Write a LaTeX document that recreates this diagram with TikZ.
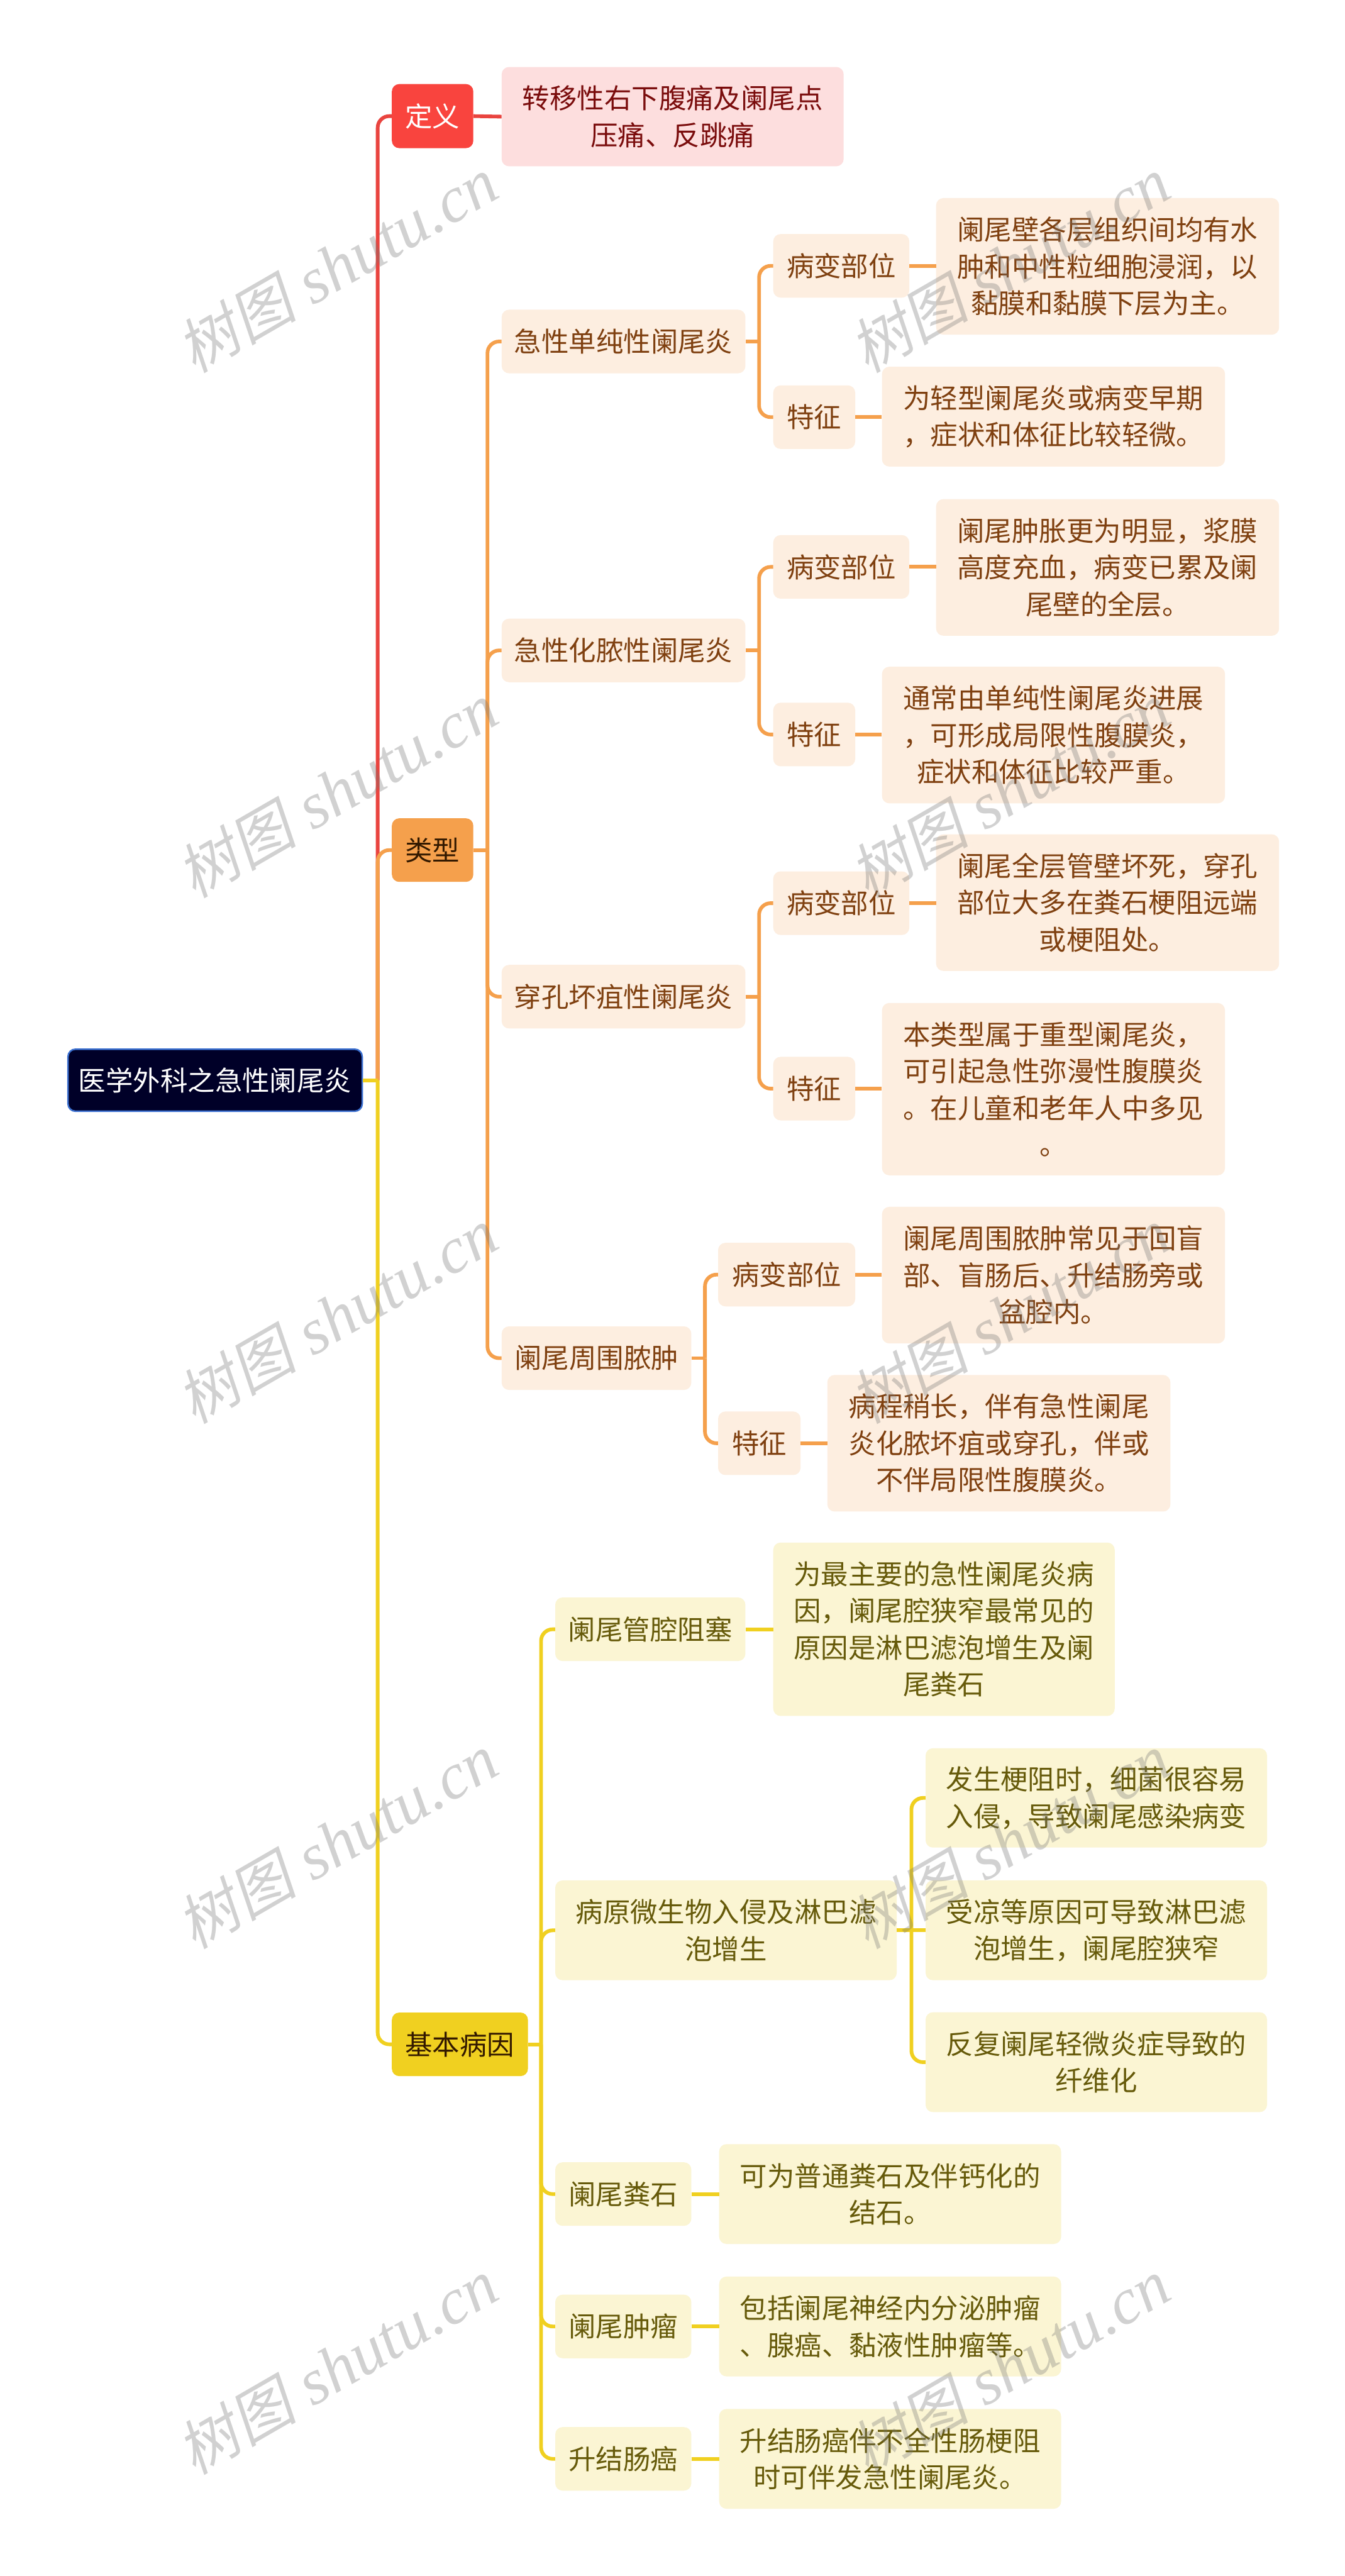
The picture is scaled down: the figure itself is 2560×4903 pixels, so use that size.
\documentclass[tikz,border=0pt]{standalone}
\usepackage{fontspec}
\setmainfont{Noto Sans CJK SC}
\newfontfamily\wmcjk[FakeSlant=0.2]{Noto Sans CJK SC}
\newfontfamily\wmlat{Liberation Serif}
\definecolor{cred}{HTML}{F9443E}
\definecolor{cline}{HTML}{E9443F}
\definecolor{corange}{HTML}{F5A04C}
\definecolor{cyellow}{HTML}{F0D020}
\definecolor{pred}{HTML}{FDDEDE}
\definecolor{porange}{HTML}{FDEEE0}
\definecolor{pyellow}{HTML}{FBF5D3}
\definecolor{tred}{HTML}{7A0C0C}
\definecolor{torange}{HTML}{7F4010}
\definecolor{tyellow}{HTML}{665A0A}
\definecolor{rootbg}{HTML}{000028}
\definecolor{rootbd}{HTML}{3A6FD0}
\tikzset{
  x=1pt,y=-1pt,
  nb/.style={rounded corners=14pt,inner sep=0pt,align=center,anchor=center,font=\fontsize{52}{70}\selectfont},
  rootn/.style={nb,fill=rootbg,draw=rootbd,line width=3pt,text=white},
  defn/.style={nb,fill=cred,text=white},
  typen/.style={nb,fill=corange,text=black!80!orange},
  causen/.style={nb,fill=cyellow,text=black!80!orange},
  rbox/.style={nb,fill=pred,text=tred},
  obox/.style={nb,fill=porange,text=torange},
  ybox/.style={nb,fill=pyellow,text=tyellow},
  ln/.style={line width=7pt,rounded corners=22pt},
  rl/.style={ln,draw=cline},
  ol/.style={ln,draw=corange},
  yl/.style={ln,draw=cyellow},
  wm/.style={rotate=30,text=black!55,opacity=.32,anchor=center,inner sep=0pt}
}
\newcommand{\wmark}{{\wmcjk\fontsize{114}{114}\selectfont 树图}{\wmlat\itshape\fontsize{124}{124}\selectfont{} shutu.cn}}
\begin{document}
\begin{tikzpicture}
\useasboundingbox (0,0) rectangle (2560,4903);
\fill[white] (0,0) rectangle (2560,4903);
% junction columns
\coordinate (tA) at (719,0);
\coordinate (tB) at (928,0);
\coordinate (tC) at (1030,0);
\coordinate (bA) at (1445,0);
\coordinate (bB) at (1342,0);
\coordinate (bC) at (1735,0);
% nodes
\node[rootn,minimum width=560pt,minimum height=118pt] (root) at (409.5,2056) {医学外科之急性阑尾炎};
\node[defn,minimum width=155pt,minimum height=122pt] (def) at (823.5,221) {定义};
\node[rbox,minimum width=651pt,minimum height=189pt] (defa) at (1280.5,222) {转移性右下腹痛及阑尾点\\压痛、反跳痛};
\node[typen,minimum width=155pt,minimum height=121pt] (typ) at (823.5,1618) {类型};
\node[causen,minimum width=259pt,minimum height=121pt] (cau) at (875.5,3891) {基本病因};
% type branch
\node[obox,minimum width=464pt,minimum height=121pt] (t1) at (1187,650) {急性单纯性阑尾炎};
\node[obox,minimum width=259pt,minimum height=121pt] (t1a) at (1601.5,506) {病变部位};
\node[obox,minimum width=653pt,minimum height=260pt] (t1ad) at (2108.5,507) {阑尾壁各层组织间均有水\\肿和中性粒细胞浸润，以\\黏膜和黏膜下层为主。};
\node[obox,minimum width=156pt,minimum height=121pt] (t1b) at (1550,794) {特征};
\node[obox,minimum width=653pt,minimum height=190pt] (t1bd) at (2005.5,793) {为轻型阑尾炎或病变早期\\，症状和体征比较轻微。};
\node[obox,minimum width=464pt,minimum height=121pt] (t2) at (1187,1238) {急性化脓性阑尾炎};
\node[obox,minimum width=259pt,minimum height=121pt] (t2a) at (1601.5,1079) {病变部位};
\node[obox,minimum width=653pt,minimum height=260pt] (t2ad) at (2108.5,1080) {阑尾肿胀更为明显，浆膜\\高度充血，病变已累及阑\\尾壁的全层。};
\node[obox,minimum width=156pt,minimum height=121pt] (t2b) at (1550,1398) {特征};
\node[obox,minimum width=653pt,minimum height=260pt] (t2bd) at (2005.5,1399) {通常由单纯性阑尾炎进展\\，可形成局限性腹膜炎，\\症状和体征比较严重。};
\node[obox,minimum width=464pt,minimum height=121pt] (t3) at (1187,1897) {穿孔坏疽性阑尾炎};
\node[obox,minimum width=259pt,minimum height=121pt] (t3a) at (1601.5,1719) {病变部位};
\node[obox,minimum width=653pt,minimum height=260pt] (t3ad) at (2108.5,1718) {阑尾全层管壁坏死，穿孔\\部位大多在粪石梗阻远端\\或梗阻处。};
\node[obox,minimum width=156pt,minimum height=121pt] (t3b) at (1550,2072) {特征};
\node[obox,minimum width=653pt,minimum height=328pt] (t3bd) at (2005.5,2073) {本类型属于重型阑尾炎，\\可引起急性弥漫性腹膜炎\\。在儿童和老年人中多见\\。};
\node[obox,minimum width=361pt,minimum height=121pt] (t4) at (1135.5,2585) {阑尾周围脓肿};
\node[obox,minimum width=261pt,minimum height=121pt] (t4a) at (1497.5,2426) {病变部位};
\node[obox,minimum width=653pt,minimum height=260pt] (t4ad) at (2005.5,2427) {阑尾周围脓肿常见于回盲\\部、盲肠后、升结肠旁或\\盆腔内。};
\node[obox,minimum width=157pt,minimum height=121pt] (t4b) at (1445.5,2747) {特征};
\node[obox,minimum width=653pt,minimum height=260pt] (t4bd) at (1901.5,2747) {病程稍长，伴有急性阑尾\\炎化脓坏疽或穿孔，伴或\\不伴局限性腹膜炎。};
% cause branch
\node[ybox,minimum width=362pt,minimum height=121pt] (c1) at (1238,3101) {阑尾管腔阻塞};
\node[ybox,minimum width=650pt,minimum height=330pt] (c1d) at (1797,3101) {为最主要的急性阑尾炎病\\因，阑尾腔狭窄最常见的\\原因是淋巴滤泡增生及阑\\尾粪石};
\node[ybox,minimum width=650pt,minimum height=190pt] (c2) at (1382,3674) {病原微生物入侵及淋巴滤\\泡增生};
\node[ybox,minimum width=650pt,minimum height=189pt] (c2a) at (2087,3422) {发生梗阻时，细菌很容易\\入侵，导致阑尾感染病变};
\node[ybox,minimum width=650pt,minimum height=190pt] (c2b) at (2087,3674) {受凉等原因可导致淋巴滤\\泡增生，阑尾腔狭窄};
\node[ybox,minimum width=650pt,minimum height=190pt] (c2c) at (2087,3925) {反复阑尾轻微炎症导致的\\纤维化};
\node[ybox,minimum width=259pt,minimum height=121pt] (c3) at (1186.5,4176) {阑尾粪石};
\node[ybox,minimum width=651pt,minimum height=190pt] (c3d) at (1694.5,4176) {可为普通粪石及伴钙化的\\结石。};
\node[ybox,minimum width=259pt,minimum height=121pt] (c4) at (1186.5,4428) {阑尾肿瘤};
\node[ybox,minimum width=651pt,minimum height=190pt] (c4d) at (1694.5,4428) {包括阑尾神经内分泌肿瘤\\、腺癌、黏液性肿瘤等。};
\node[ybox,minimum width=259pt,minimum height=121pt] (c5) at (1186.5,4680) {升结肠癌};
\node[ybox,minimum width=651pt,minimum height=190pt] (c5d) at (1694.5,4680) {升结肠癌伴不全性肠梗阻\\时可伴发急性阑尾炎。};
% connectors: main trunk
\draw[rl] (root.east -| tA) |- (def.west);
\draw[rl] (def.east) -- (defa.west);
\draw[ol] (root.east -| tA) |- (typ.west);
\draw[yl] (root.east -| tA) |- (cau.west);
\draw[yl,rounded corners=0pt] (root.east) -- (root.east -| tA);
% type branch
\draw[ol,rounded corners=0pt] (typ.east) -- (typ.east -| tB);
\foreach \c in {t1,t2,t3,t4}{\draw[ol] (typ.east -| tB) |- (\c.west);}
\foreach \p/\d in {t1a/t1ad,t1b/t1bd,t2a/t2ad,t2b/t2bd,t3a/t3ad,t3b/t3bd,t4a/t4ad,t4b/t4bd}{\draw[ol] (\p.east) -- (\p.east -| \d.west);}
\foreach \p/\a/\b in {t1/t1a/t1b,t2/t2a/t2b,t3/t3a/t3b}{
  \draw[ol,rounded corners=0pt] (\p.east) -- (\p.east -| bA);
  \draw[ol] (\p.east -| bA) |- (\a.west);
  \draw[ol] (\p.east -| bA) |- (\b.west);
}
\draw[ol,rounded corners=0pt] (t4.east) -- (t4.east -| bB);
\draw[ol] (t4.east -| bB) |- (t4a.west);
\draw[ol] (t4.east -| bB) |- (t4b.west);
% cause branch
\draw[yl,rounded corners=0pt] (cau.east) -- (cau.east -| tC);
\foreach \c in {c1,c2,c3,c4,c5}{\draw[yl] (cau.east -| tC) |- (\c.west);}
\foreach \p/\d in {c1/c1d,c3/c3d,c4/c4d,c5/c5d}{\draw[yl] (\p.east) -- (\p.east -| \d.west);}
\draw[yl,rounded corners=0pt] (c2.east) -- (c2b.west);
\draw[yl] (c2.east -| bC) |- (c2a.west);
\draw[yl] (c2.east -| bC) |- (c2c.west);
% watermark
\foreach \y in {505,1505,2505,3505,4505}{
  \node[wm] (wl\y) at (642,\y) {\wmark};
  \node[wm] (wr\y) at (1922,\y) {\wmark};
}
\end{tikzpicture}
\end{document}
